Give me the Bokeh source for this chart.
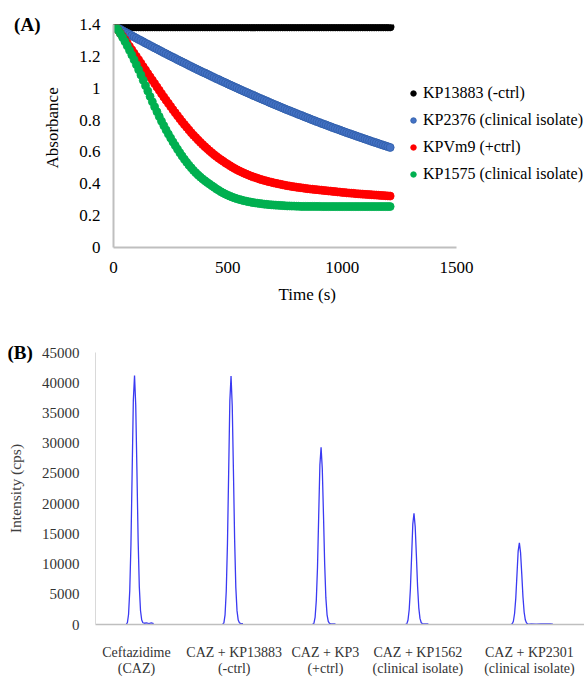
from bokeh.plotting import figure
from bokeh.models import Legend, LegendItem, Title, Range1d, FixedTicker, LinearAxis
from bokeh.embed import file_html
from bokeh.resources import INLINE

# ---------------- Panel A data ----------------
time_s = [10, 20, 30, 40, 50, 60, 70, 80, 90, 100,
          110, 120, 130, 140, 150, 160, 170, 180, 190, 200,
          210, 220, 230, 240, 250, 260, 270, 280, 290, 300,
          310, 320, 330, 340, 350, 360, 370, 380, 390, 400,
          410, 420, 430, 440, 450, 460, 470, 480, 490, 500,
          510, 520, 530, 540, 550, 560, 570, 580, 590, 600,
          610, 620, 630, 640, 650, 660, 670, 680, 690, 700,
          710, 720, 730, 740, 750, 760, 770, 780, 790, 800,
          810, 820, 830, 840, 850, 860, 870, 880, 890, 900,
          910, 920, 930, 940, 950, 960, 970, 980, 990, 1000,
          1010, 1020, 1030, 1040, 1050, 1060, 1070, 1080, 1090, 1100,
          1110, 1120, 1130, 1140, 1150, 1160, 1170, 1180, 1190, 1200,
          1210]

abs_kp13883 = [1.385, 1.385, 1.385, 1.385, 1.385, 1.385, 1.385, 1.385, 1.385, 1.385,
               1.385, 1.385, 1.385, 1.385, 1.385, 1.385, 1.385, 1.385, 1.385, 1.385,
               1.385, 1.385, 1.385, 1.385, 1.385, 1.385, 1.385, 1.385, 1.385, 1.385,
               1.385, 1.385, 1.385, 1.385, 1.385, 1.385, 1.385, 1.385, 1.385, 1.385,
               1.385, 1.385, 1.385, 1.385, 1.385, 1.385, 1.385, 1.385, 1.385, 1.385,
               1.385, 1.385, 1.385, 1.385, 1.385, 1.385, 1.385, 1.385, 1.385, 1.385,
               1.385, 1.385, 1.385, 1.385, 1.385, 1.385, 1.385, 1.385, 1.385, 1.385,
               1.385, 1.385, 1.385, 1.385, 1.385, 1.385, 1.385, 1.385, 1.385, 1.385,
               1.385, 1.385, 1.385, 1.385, 1.385, 1.385, 1.385, 1.385, 1.385, 1.385,
               1.385, 1.385, 1.385, 1.385, 1.385, 1.385, 1.385, 1.385, 1.385, 1.385,
               1.385, 1.385, 1.385, 1.385, 1.385, 1.385, 1.385, 1.385, 1.385, 1.385,
               1.385, 1.385, 1.385, 1.385, 1.385, 1.385, 1.385, 1.385, 1.385, 1.385,
               1.385]

abs_kp2376 = [1.385, 1.377, 1.369, 1.361, 1.353, 1.345, 1.338, 1.330, 1.322, 1.314,
              1.306, 1.299, 1.291, 1.283, 1.276, 1.268, 1.261, 1.253, 1.246, 1.238,
              1.231, 1.223, 1.216, 1.208, 1.201, 1.194, 1.187, 1.179, 1.172, 1.165,
              1.158, 1.151, 1.143, 1.136, 1.129, 1.122, 1.115, 1.108, 1.101, 1.095,
              1.088, 1.081, 1.074, 1.067, 1.060, 1.054, 1.047, 1.040, 1.034, 1.027,
              1.020, 1.014, 1.007, 1.001, 0.994, 0.988, 0.981, 0.975, 0.969, 0.962,
              0.956, 0.950, 0.943, 0.937, 0.931, 0.925, 0.919, 0.912, 0.906, 0.900,
              0.894, 0.888, 0.882, 0.876, 0.870, 0.864, 0.859, 0.853, 0.847, 0.841,
              0.835, 0.830, 0.824, 0.818, 0.813, 0.807, 0.801, 0.796, 0.790, 0.785,
              0.779, 0.774, 0.769, 0.763, 0.758, 0.752, 0.747, 0.742, 0.737, 0.731,
              0.726, 0.721, 0.716, 0.711, 0.706, 0.701, 0.696, 0.691, 0.686, 0.681,
              0.676, 0.671, 0.666, 0.661, 0.657, 0.652, 0.647, 0.642, 0.638, 0.633,
              0.628]

abs_kpvm9 = [1.385, 1.365, 1.345, 1.325, 1.305, 1.284, 1.262, 1.241, 1.220, 1.199,
             1.178, 1.157, 1.135, 1.114, 1.092, 1.071, 1.050, 1.029, 1.008, 0.987,
             0.966, 0.945, 0.925, 0.905, 0.885, 0.865, 0.846, 0.827, 0.808, 0.790,
             0.772, 0.755, 0.738, 0.721, 0.705, 0.690, 0.675, 0.660, 0.646, 0.633,
             0.620, 0.607, 0.595, 0.583, 0.572, 0.561, 0.551, 0.541, 0.531, 0.522,
             0.513, 0.504, 0.496, 0.488, 0.481, 0.474, 0.467, 0.461, 0.455, 0.449,
             0.444, 0.439, 0.434, 0.429, 0.425, 0.421, 0.417, 0.413, 0.410, 0.406,
             0.403, 0.400, 0.397, 0.394, 0.391, 0.388, 0.386, 0.383, 0.381, 0.379,
             0.377, 0.375, 0.373, 0.371, 0.369, 0.367, 0.366, 0.364, 0.363, 0.361,
             0.360, 0.358, 0.357, 0.355, 0.354, 0.352, 0.351, 0.349, 0.348, 0.346,
             0.345, 0.343, 0.342, 0.341, 0.340, 0.338, 0.337, 0.336, 0.335, 0.334,
             0.333, 0.332, 0.331, 0.330, 0.329, 0.328, 0.327, 0.326, 0.325, 0.324,
             0.323]

abs_kp1575 = [1.385, 1.365, 1.343, 1.319, 1.293, 1.266, 1.238, 1.209, 1.179, 1.148,
              1.116, 1.083, 1.050, 1.016, 0.982, 0.948, 0.915, 0.883, 0.852, 0.822,
              0.793, 0.765, 0.738, 0.712, 0.687, 0.663, 0.640, 0.617, 0.595, 0.574,
              0.554, 0.535, 0.517, 0.500, 0.484, 0.469, 0.455, 0.442, 0.430, 0.419,
              0.408, 0.398, 0.388, 0.378, 0.368, 0.359, 0.350, 0.342, 0.335, 0.328,
              0.322, 0.316, 0.311, 0.306, 0.302, 0.298, 0.294, 0.291, 0.288, 0.285,
              0.282, 0.280, 0.278, 0.276, 0.274, 0.272, 0.271, 0.269, 0.268, 0.267,
              0.266, 0.265, 0.264, 0.263, 0.262, 0.261, 0.261, 0.260, 0.260, 0.259,
              0.259, 0.258, 0.258, 0.258, 0.258, 0.258, 0.258, 0.258, 0.258, 0.258,
              0.257, 0.257, 0.257, 0.257, 0.257, 0.257, 0.257, 0.257, 0.257, 0.257,
              0.257, 0.257, 0.257, 0.257, 0.257, 0.257, 0.257, 0.257, 0.257, 0.257,
              0.257, 0.257, 0.257, 0.257, 0.257, 0.257, 0.257, 0.257, 0.257, 0.257,
              0.257]

series_labels = ["KP13883 (-ctrl)", "KP2376 (clinical isolate)",
                 "KPVm9 (+ctrl)", "KP1575 (clinical isolate)"]
series_colors = ["#000000", "#4472c4", "#ff0000", "#00b050"]
series_lines = ["#000000", "#2f5da8", "#ff0000", "#00b050"]

x_ticks_a = [0, 500, 1000, 1500]
y_ticks_a = [0, 0.2, 0.4, 0.6, 0.8, 1, 1.2, 1.4]
y_labels_a = {0: "0", 1: "1"}
panel_a_letter = {1.4: "(A)"}

# ---------------- Panel B data ----------------
caz_x = [6.40, 6.65, 6.90, 7.15, 7.40, 7.65, 7.90, 8.15, 8.40, 8.65,
         8.90, 9.15, 9.40, 9.65, 9.90, 10.15, 10.65, 11.15, 11.65, 12.15]
caz_y = [120, 250, 1650, 5560, 13200, 25100, 37100, 41200, 36300, 25500,
         14000, 6200, 2270, 740, 290, 210, 250, 160, 250, 160]

kp13883_x = [26.55, 26.80, 27.05, 27.30, 27.55, 27.80, 28.05, 28.30, 28.55, 28.80,
             29.05, 29.30, 29.55, 29.80, 30.05, 30.30, 30.80]
kp13883_y = [110, 240, 1600, 5500, 13300, 25000, 37000, 41100, 36200, 25400,
             14000, 6100, 2250, 730, 280, 200, 150]

kp3_x = [45.35, 45.60, 45.85, 46.10, 46.35, 46.60, 46.85, 47.10, 47.35, 47.60,
         47.85, 48.10, 48.35, 48.60, 48.85, 49.10, 49.60, 50.10]
kp3_y = [90, 180, 1170, 3950, 9400, 17900, 26400, 29300, 25800, 18200,
         10000, 4400, 1600, 530, 200, 150, 120, 100]

kp1562_x = [64.75, 65.00, 65.25, 65.50, 65.75, 66.00, 66.25, 66.50, 66.75, 67.00,
            67.25, 67.50, 67.75, 68.00, 68.25, 68.50, 69.00, 69.50]
kp1562_y = [70, 110, 740, 2480, 5900, 11200, 16600, 18400, 16200, 11400,
            6300, 2760, 1010, 330, 130, 90, 110, 90]

kp2301_x = [86.75, 87.00, 87.25, 87.50, 87.75, 88.00, 88.25, 88.50, 88.75, 89.00,
            89.25, 89.50, 89.75, 90.00, 90.25, 90.50, 91.00, 92.00, 93.00, 94.00,
            95.00, 95.50]
kp2301_y = [50, 80, 540, 1820, 4320, 8240, 12150, 13500, 11900, 8370,
            4590, 2030, 740, 240, 100, 70, 90, 70, 110, 80,
            100, 70]

sample_pos = [8.56, 28.96, 48.0, 67.3, 90.6]
sample_labels = ["Ceftazidime\n(CAZ)", "CAZ + KP13883\n(-ctrl)", "CAZ + KP3\n(+ctrl)",
                 "CAZ + KP1562\n(clinical isolate)", "CAZ + KP2301\n(clinical isolate)"]
y_ticks_b = [0, 5000, 10000, 15000, 20000, 25000, 30000, 35000, 40000, 45000]

FONT = "Liberation Serif"


def make_title(text, offset, standoff, size, bold, align="left", valign="bottom"):
    t = Title(text=text, align=align, offset=offset, vertical_align=valign,
              text_font=FONT, text_font_size=size,
              text_font_style="bold" if bold else "normal", text_color="#000000")
    try:
        t.standoff = standoff
    except Exception:
        t.standoff = 0
    return t


# ---------------- Panel A ----------------
pA = figure(width=584, height=315, x_range=Range1d(0, 2060), y_range=Range1d(0, 1.4),
            output_backend="svg", toolbar_location=None,
            min_border_left=113, min_border_right=0, min_border_top=24, min_border_bottom=68)
pA.outline_line_color = None
pA.xgrid.grid_line_color = None
pA.ygrid.grid_line_color = None

renderers = []
for ys, fc, lc in zip([abs_kp13883, abs_kp2376, abs_kpvm9, abs_kp1575], series_colors, series_lines):
    r = pA.scatter(time_s, ys, size=8, fill_color=fc, line_color=lc, line_width=0.8)
    renderers.append(r)

for ax in (pA.xaxis[0], pA.yaxis[0]):
    ax.axis_line_color = "#bfbfbf"
    ax.axis_line_width = 2
    ax.major_tick_line_color = None
    ax.minor_tick_line_color = None
    ax.major_label_text_font = FONT
    ax.major_label_text_font_size = "17px"
    ax.major_label_text_color = "#000000"

pA.xaxis.bounds = (0, 1500)
pA.xaxis.ticker = FixedTicker(ticks=x_ticks_a)
pA.yaxis.ticker = FixedTicker(ticks=y_ticks_a)
pA.yaxis.major_label_overrides = y_labels_a
pA.xaxis.major_label_standoff = 8
pA.yaxis.major_label_standoff = 7

# y-axis title of panel A (sits a little above the frame's centre, as in the source)
pA.add_layout(make_title("Absorbance", 79, 30, "17px", False, align="left", valign="bottom"), "left")

# panel letter "(A)" level with the top of the y axis
letter_axis = LinearAxis(ticker=FixedTicker(ticks=list(panel_a_letter.keys())),
                         major_label_overrides=panel_a_letter,
                         axis_line_color=None, major_tick_line_color=None,
                         minor_tick_line_color=None, major_label_standoff=-21,
                         major_label_text_font=FONT, major_label_text_font_style="bold",
                         major_label_text_font_size="19px", major_label_text_color="#000000")
pA.add_layout(letter_axis, "left")

legend = Legend(items=[LegendItem(label=l, renderers=[r]) for l, r in zip(series_labels, renderers)],
                location=(293, 63))
legend.label_text_font = FONT
legend.label_text_font_size = "16px"
legend.label_text_color = "#000000"
legend.glyph_width = 14
legend.glyph_height = 20
legend.label_height = 20
legend.spacing = 7
legend.padding = 0
legend.margin = 0
legend.label_standoff = 3
legend.border_line_color = None
legend.background_fill_alpha = 0
pA.add_layout(legend)

# x-axis title of panel A (placed under the tick labels)
pA.add_layout(make_title("Time (s)", 165, 18, "17px", False, valign="top"), "below")

# ---------------- Panel B ----------------
pB = figure(width=584, height=364, x_range=Range1d(0, 102.1), y_range=Range1d(0, 45000),
            output_backend="svg", toolbar_location=None,
            min_border_left=95, min_border_right=0, min_border_top=37, min_border_bottom=46)
pB.outline_line_color = None
pB.xgrid.grid_line_color = None
pB.ygrid.grid_line_color = None

for xs, ys in [(caz_x, caz_y), (kp13883_x, kp13883_y), (kp3_x, kp3_y),
               (kp1562_x, kp1562_y), (kp2301_x, kp2301_y)]:
    pB.line(xs, ys, line_color="#3a3af2", line_width=1.3)

for ax in (pB.xaxis[0], pB.yaxis[0]):
    ax.major_tick_line_color = None
    ax.minor_tick_line_color = None
    ax.major_label_text_font = FONT
    ax.major_label_text_color = "#333333"
    ax.axis_label_text_font = FONT
    ax.axis_label_text_font_style = "normal"
    ax.axis_label_text_color = "#404040"

pB.xaxis.axis_line_color = "#bfbfbf"
pB.xaxis.axis_line_width = 1.5
pB.yaxis.axis_line_color = "#d9d9d9"
pB.yaxis.axis_line_width = 1
pB.xaxis.ticker = FixedTicker(ticks=sample_pos)
pB.xaxis.major_label_overrides = dict(zip(sample_pos, sample_labels))
pB.xaxis.major_label_text_font_size = "14px"
pB.xaxis.major_label_text_line_height = 1.1
pB.xaxis.major_label_standoff = 14
pB.yaxis.ticker = FixedTicker(ticks=y_ticks_b)
pB.yaxis.major_label_text_font_size = "15px"
pB.yaxis.major_label_standoff = 10
pB.yaxis.axis_label = "Intensity (cps)"
pB.yaxis.axis_label_text_font_size = "15.5px"
pB.yaxis.axis_label_standoff = 15

pB.add_layout(make_title("(B)", -88, -20, "19px", True), "above")

open("out.html", "w").write(file_html([pA, pB], INLINE))
